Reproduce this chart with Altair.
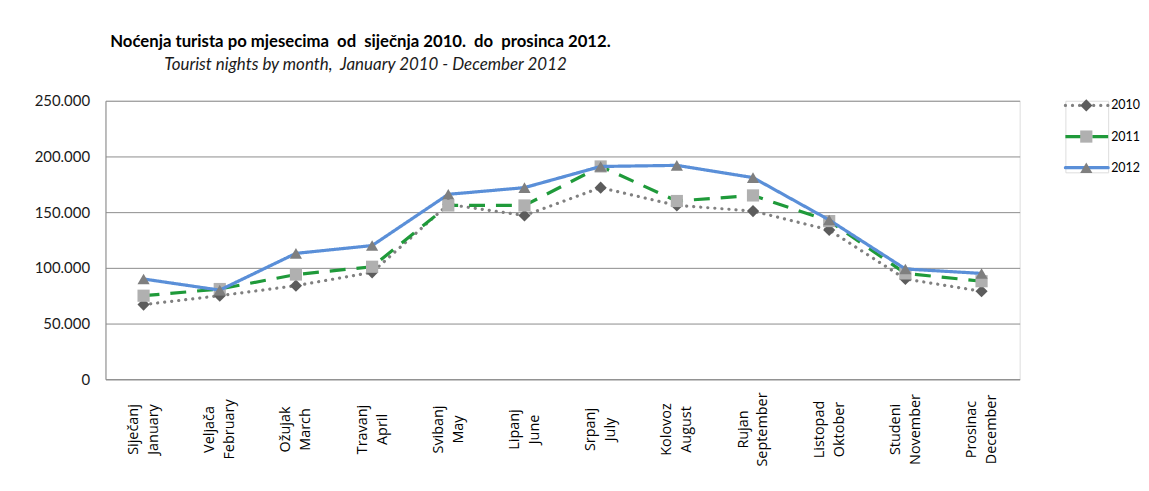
import altair as alt
import pandas as pd

months_hr = ["Siječanj", "Veljača", "Ožujak", "Travanj", "Svibanj", "Lipanj",
             "Srpanj", "Kolovoz", "Rujan", "Listopad", "Studeni", "Prosinac"]
months_en = ["January", "February", "March", "April", "May", "June",
             "July", "August", "September", "Oktober", "November", "December"]
series = ["2010", "2011", "2012"]
v2010 = [67000, 75000, 84000, 96000, 157000, 147000, 172000, 156000, 151000, 134000, 90000, 79000]
v2011 = [75000, 81000, 94000, 101000, 156000, 156000, 191000, 160000, 165000, 142000, 95000, 88000]
v2012 = [90000, 80000, 113000, 120000, 166000, 172000, 191000, 192000, 181000, 143000, 99000, 95000]
y_ticks = [0, 50000, 100000, 150000, 200000, 250000]

cats = [f"{h}|{e}" for h, e in zip(months_hr, months_en)]
rows = []
for s, vals in zip(series, [v2010, v2011, v2012]):
    for c, v in zip(cats, vals):
        rows.append({"month": c, "series": s, "value": v})
df = pd.DataFrame(rows)
leg_df = pd.DataFrame({"series": series})

line_color = {"2010": "#808080", "2011": "#1f9a3a", "2012": "#5a8fd8"}
marker_color = {"2010": "#5c5c5c", "2011": "#b0b0b0", "2012": "#7f7f7f"}
dash = {"2010": [0.1, 7], "2011": [16, 11], "2012": [1, 0]}
cap = {"2010": "round", "2011": "butt", "2012": "round"}
shape = {"2010": "diamond", "2011": "square", "2012": "triangle-up"}
msize = {"2010": 150, "2011": 150, "2012": 150}

x_enc = alt.X("month:N", sort=cats, title=None,
              axis=alt.Axis(labelAngle=270, labelAlign="center", labelBaseline="middle",
                            labelExpr="split(datum.label, '|')", labelLineHeight=20,
                            labelPadding=50, labelOffset=-10, ticks=False, domainColor="#8c8c8c",
                            labelFont="Open Sans", labelFontSize=14.5, labelColor="#000000",
                            grid=False))
y_enc = alt.Y("value:Q", scale=alt.Scale(domain=[0, 250000]), title=None,
              axis=alt.Axis(values=y_ticks, grid=True, gridColor="#8c8c8c",
                            domainColor="#8c8c8c", ticks=False, labelPadding=16,
                            labelExpr="datum.value == 0 ? '0' : format(datum.value/1000, '.3f')",
                            labelFont="Lato", labelFontSize=15, labelColor="#1a1a1a"))

layers = []
for s in series:
    base = alt.Chart(df).transform_filter(alt.datum.series == s)
    layers.append(base.mark_line(color=line_color[s], strokeWidth=3.2, strokeDash=dash[s],
                                 strokeCap=cap[s]).encode(x=x_enc, y=y_enc))
    layers.append(base.mark_point(shape=shape[s], filled=True, color=marker_color[s],
                                  size=msize[s], opacity=1).encode(x=x_enc, y=y_enc))
main = alt.layer(*layers).properties(width=919, height=280)

ly = alt.Y("series:N", sort=series, scale=alt.Scale(type="point", padding=0.15), axis=None)
leg_layers = []
for s in series:
    base = alt.Chart(leg_df).transform_filter(alt.datum.series == s)
    leg_layers.append(base.mark_rule(color=line_color[s], strokeWidth=3.2, strokeDash=dash[s],
                                     strokeCap=cap[s]).encode(x=alt.value(0), x2=alt.value(43), y=ly))
    leg_layers.append(base.mark_point(shape=shape[s], filled=True, color=marker_color[s],
                                      size=msize[s], opacity=1).encode(x=alt.value(21), y=ly))
    leg_layers.append(base.mark_text(align="left", baseline="middle", font="Lato", fontSize=12.5,
                                     color="#000000").encode(x=alt.value(46), y=ly, text="series:N"))
legend = alt.layer(*leg_layers).properties(width=43, height=72)

title_text = "Noćenja turista po mjesecima \u00a0od \u00a0siječnja 2010. \u00a0do \u00a0prosinca 2012."
subtitle_text = "\u200b" + "\u2003" * 4 + "\u00a0\u00a0Tourist nights by month, \u00a0January 2010 - December 2012"

chart = alt.hconcat(main, legend, spacing=42).properties(
    title=alt.TitleParams(text=title_text, subtitle=subtitle_text, anchor="start",
                          font="Lato", fontSize=16.8, fontWeight="bold", color="#000000",
                          subtitleFont="Lato", subtitleFontSize=17, subtitleFontStyle="italic",
                          subtitleColor="#1a1a1a", subtitlePadding=7, dx=77, offset=20),
    padding={"left": 25, "top": 24, "right": 0, "bottom": 5},
).configure_view(stroke=None).configure(background="white")

chart.save("out.html", embed_options={"renderer": "svg", "actions": False})
